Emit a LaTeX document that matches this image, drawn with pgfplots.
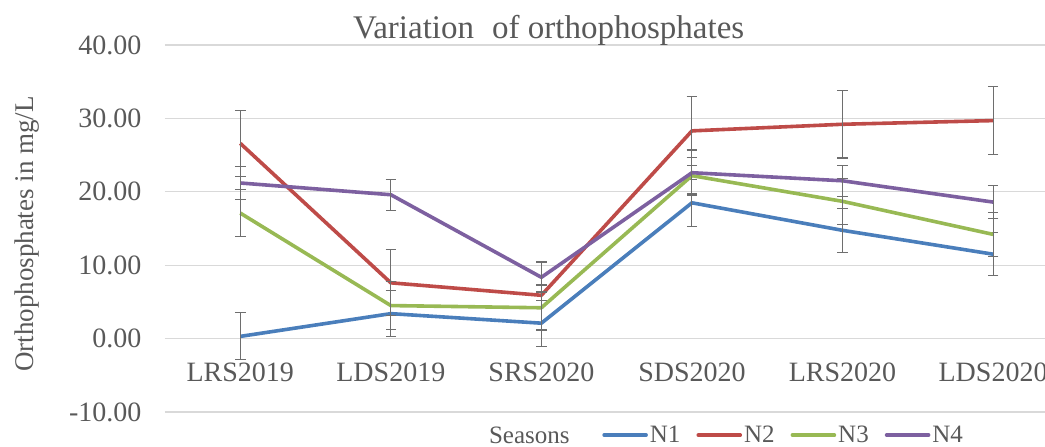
\documentclass[border=0pt]{standalone}
\usepackage{pgfplots}
\pgfplotsset{compat=1.18}
\usepackage{fontspec}
\setmainfont{Liberation Serif}
\definecolor{txt}{HTML}{595959}
\definecolor{grd}{HTML}{D9D9D9}
\definecolor{ebar}{HTML}{6E6E6E}
\definecolor{cN1}{HTML}{4A7EBB}
\definecolor{cN2}{HTML}{BE4B48}
\definecolor{cN3}{HTML}{98B954}
\definecolor{cN4}{HTML}{7D60A0}
\begin{document}
\begin{tikzpicture}
\path[use as bounding box] (0,0) rectangle (1045pt,447pt);
\begin{axis}[
  at={(165pt,35pt)}, anchor=south west,
  scale only axis, width=880pt, height=367pt,
  xmin=-0.5, xmax=5.345, ymin=-10, ymax=40,
  xtick={0,1,2,3,4,5},
  xticklabels={LRS2019,LDS2019,SRS2020,SDS2020,LRS2020,LDS2020},
  ytick={-10,0,10,20,30,40},
  axis line style={draw=none},
  major tick length=0pt,
  ymajorgrids, grid style={grd, line width=1.3pt},
  /pgf/number format/assume math mode=true,
  /pgf/number format/.cd, fixed, fixed zerofill, precision=2, /pgfplots/.cd,
  tick label style={font=\fontsize{28}{32}\selectfont, text=txt},
  xticklabel style={anchor=center, yshift=40pt},
  yticklabel style={xshift=-20pt},
  title={Variation\hspace{0.3em} of orthophosphates},
  title style={font=\fontsize{33}{36}\selectfont, text=txt, at={(axis description cs:0.436,1.024)}, anchor=center},
  ylabel={Orthophosphates in mg/L},
  ylabel style={font=\fontsize{27}{30}\selectfont, text=txt, at={(axis description cs:-0.157,0.485)}, anchor=center, rotate=0},
  xlabel={Seasons},
  xlabel style={font=\fontsize{25}{30}\selectfont, text=txt, at={(axis description cs:0.414,-0.063)}, anchor=center},
  legend columns=4,
  legend style={draw=none, fill=none, font=\fontsize{25}{30}\selectfont, text=txt,
    at={(axis description cs:0.703,-0.063)}, anchor=center,
    /tikz/every even column/.append style={column sep=14pt}},
  legend image code/.code={\draw[#1, line cap=round] (0pt,0pt) -- (42pt,0pt);},
  every axis plot/.append style={line width=3.6pt, line join=round},
  error bars/y dir=both, error bars/y explicit,
  error bars/error bar style={ebar, line width=1.1pt},
  error bars/error mark options={rotate=90, mark size=5.3pt, ebar, line width=1.1pt},
  clip=false,
]
\addplot[cN1] coordinates {(0,0.3) +- (0,3.2) (1,3.4) +- (0,3.1) (2,2.1) +- (0,3.15) (3,18.5) +- (0,3.2) (4,14.75) +- (0,3.0) (5,11.5) +- (0,2.9)};
\addlegendentry{N1}
\addplot[cN2] coordinates {(0,26.6) +- (0,4.5) (1,7.6) +- (0,4.5) (2,5.9) +- (0,4.6) (3,28.3) +- (0,4.7) (4,29.2) +- (0,4.6) (5,29.7) +- (0,4.6)};
\addlegendentry{N2}
\addplot[cN3] coordinates {(0,17.1) +- (0,3.2) (1,4.5) +- (0,3.3) (2,4.2) +- (0,3.1) (3,22.2) +- (0,2.5) (4,18.7) +- (0,3.1) (5,14.2) +- (0,3.0)};
\addlegendentry{N3}
\addplot[cN4] coordinates {(0,21.2) +- (0,2.2) (1,19.6) +- (0,2.1) (2,8.35) +- (0,2.0) (3,22.6) +- (0,3.1) (4,21.5) +- (0,2.1) (5,18.6) +- (0,2.2)};
\addlegendentry{N4}
\end{axis}
\end{tikzpicture}
\end{document}
